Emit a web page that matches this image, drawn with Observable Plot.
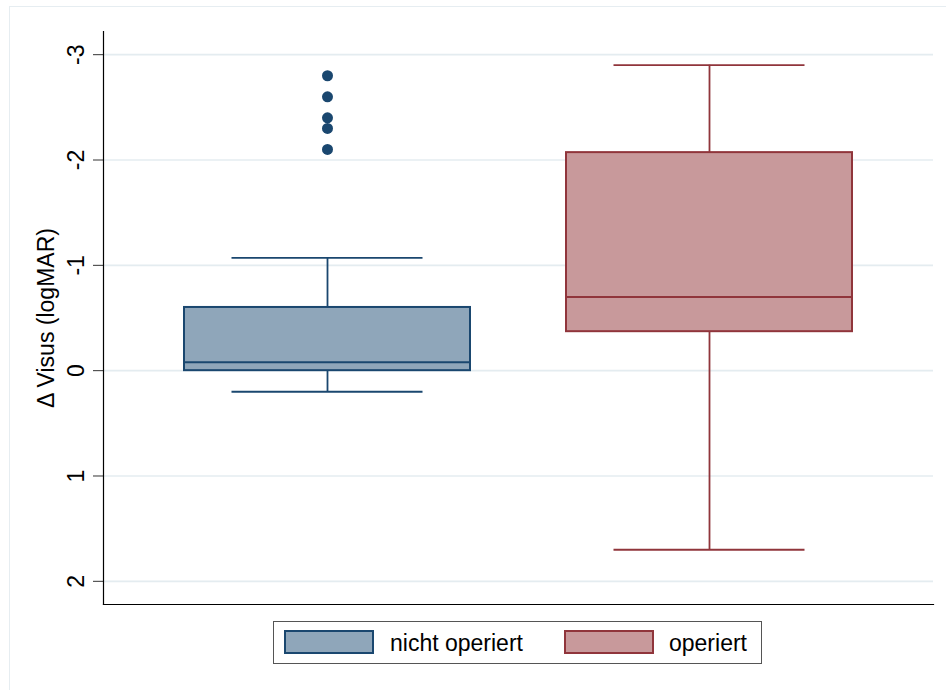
<!DOCTYPE html>
<html>
<head>
<meta charset="utf-8">
<script src="https://cdn.jsdelivr.net/npm/d3@7"></script>
<script src="https://cdn.jsdelivr.net/npm/@observablehq/plot@0.6"></script>
<style>
  html, body { margin: 0; padding: 0; background: #fff; overflow: hidden; }
  #page { position: relative; width: 946px; height: 690px; font-family: "Liberation Sans", Arial, sans-serif; }
  #outer { position: absolute; left: 9px; top: 6px; width: 960px; height: 700px; border: 1.5px solid #e6edf1; box-sizing: border-box; pointer-events: none; }
  #chart { position: absolute; left: 0; top: 0; }
  #legend { position: absolute; left: 273px; top: 621px; width: 489px; height: 43px; box-sizing: border-box;
            border: 1.2px solid #555; background: #fff; font-size: 23px; color: #000; white-space: nowrap; }
  .sw { position: absolute; top: 8px; width: 90px; height: 24px; box-sizing: border-box; border: 2px solid; }
  .lab { position: absolute; top: 8px; line-height: 26px; }
</style>
</head>
<body>
<div id="page">
  <div id="outer"></div>
  <div id="chart"></div>
  <div id="legend"></div>
</div>
<script>
// Groups and box-plot summaries of the change in visual acuity (logMAR)
const groups = ["nicht operiert", "operiert"];
const whiskerTop = [-1.07, -2.90];
const boxTop = [-0.60, -2.07];
const median = [-0.08, -0.70];
const boxBottom = [0.00, -0.37];
const whiskerBottom = [0.20, 1.70];

// Outside values of the first group
const outlierGroup = ["nicht operiert", "nicht operiert", "nicht operiert", "nicht operiert", "nicht operiert"];
const outlierValues = [-2.80, -2.60, -2.40, -2.30, -2.10];

const yTicks = [-3, -2, -1, 0, 1, 2];
const yLimits = [2.22, -3.22];

const fillColors = ["#8fa6ba", "#c8999b"];
const strokeColors = ["#1a476f", "#90353b"];

const boxes = groups.map((g, i) => ({
  group: g,
  whiskerTop: whiskerTop[i],
  boxTop: boxTop[i],
  median: median[i],
  boxBottom: boxBottom[i],
  whiskerBottom: whiskerBottom[i],
  fill: fillColors[i],
  stroke: strokeColors[i]
}));
const outliers = outlierValues.map((v, i) => ({group: outlierGroup[i], value: v}));

const W = 946, H = 612;
const chart = Plot.plot({
  width: W,
  height: H,
  marginLeft: 103,
  marginRight: 13,
  marginTop: 31,
  marginBottom: 8,
  style: {fontFamily: "Liberation Sans, Arial, sans-serif", fontSize: "23px", color: "#000", background: "transparent"},
  x: {type: "band", domain: groups, paddingInner: 0.2513, paddingOuter: 0.212, axis: null},
  y: {domain: yLimits, axis: null},
  marks: [
    Plot.gridY(yTicks, {stroke: "#e4ecf0", strokeOpacity: 1, strokeWidth: 1.6}),
    Plot.axisY(yTicks, {
      tickSize: 10,
      tickPadding: 10,
      tickRotate: -90,
      tickFormat: d => String(d),
      stroke: "#333",
      fill: "#000",
      label: "Δ Visus (logMAR)",
      labelAnchor: "center",
      labelOffset: 66,
      labelArrow: "none"
    }),
    // whiskers
    Plot.ruleX(boxes, {x: "group", y1: "whiskerTop", y2: "boxTop", stroke: "stroke", strokeWidth: 1.8}),
    Plot.ruleX(boxes, {x: "group", y1: "boxBottom", y2: "whiskerBottom", stroke: "stroke", strokeWidth: 1.8}),
    Plot.tickY(boxes, {x: "group", y: "whiskerTop", stroke: "stroke", strokeWidth: 1.8, insetLeft: 47.5, insetRight: 47.5}),
    Plot.tickY(boxes, {x: "group", y: "whiskerBottom", stroke: "stroke", strokeWidth: 1.8, insetLeft: 47.5, insetRight: 47.5}),
    // interquartile boxes and medians
    Plot.barY(boxes, {x: "group", y1: "boxTop", y2: "boxBottom", fill: "fill", stroke: "stroke", strokeWidth: 2}),
    Plot.tickY(boxes, {x: "group", y: "median", stroke: "stroke", strokeWidth: 2}),
    // outside values
    Plot.dot(outliers, {x: "group", y: "value", r: 5.5, fill: strokeColors[0], stroke: "none"}),
    // axis lines
    Plot.frame({anchor: "left", stroke: "#000", strokeWidth: 1.2}),
    Plot.frame({anchor: "bottom", stroke: "#000", strokeWidth: 1.2})
  ]
});
document.getElementById("chart").appendChild(chart);

// Legend below the plot: swatch and label offsets inside the legend box
const swatchLeft = [10, 290];
const labelLeft = [116, 395];
const legend = document.getElementById("legend");
groups.forEach((g, i) => {
  const sw = document.createElement("div");
  sw.className = "sw";
  sw.style.left = swatchLeft[i] + "px";
  sw.style.background = fillColors[i];
  sw.style.borderColor = strokeColors[i];
  const lab = document.createElement("span");
  lab.className = "lab";
  lab.style.left = labelLeft[i] + "px";
  lab.textContent = g;
  legend.appendChild(sw);
  legend.appendChild(lab);
});
</script>
</body>
</html>
